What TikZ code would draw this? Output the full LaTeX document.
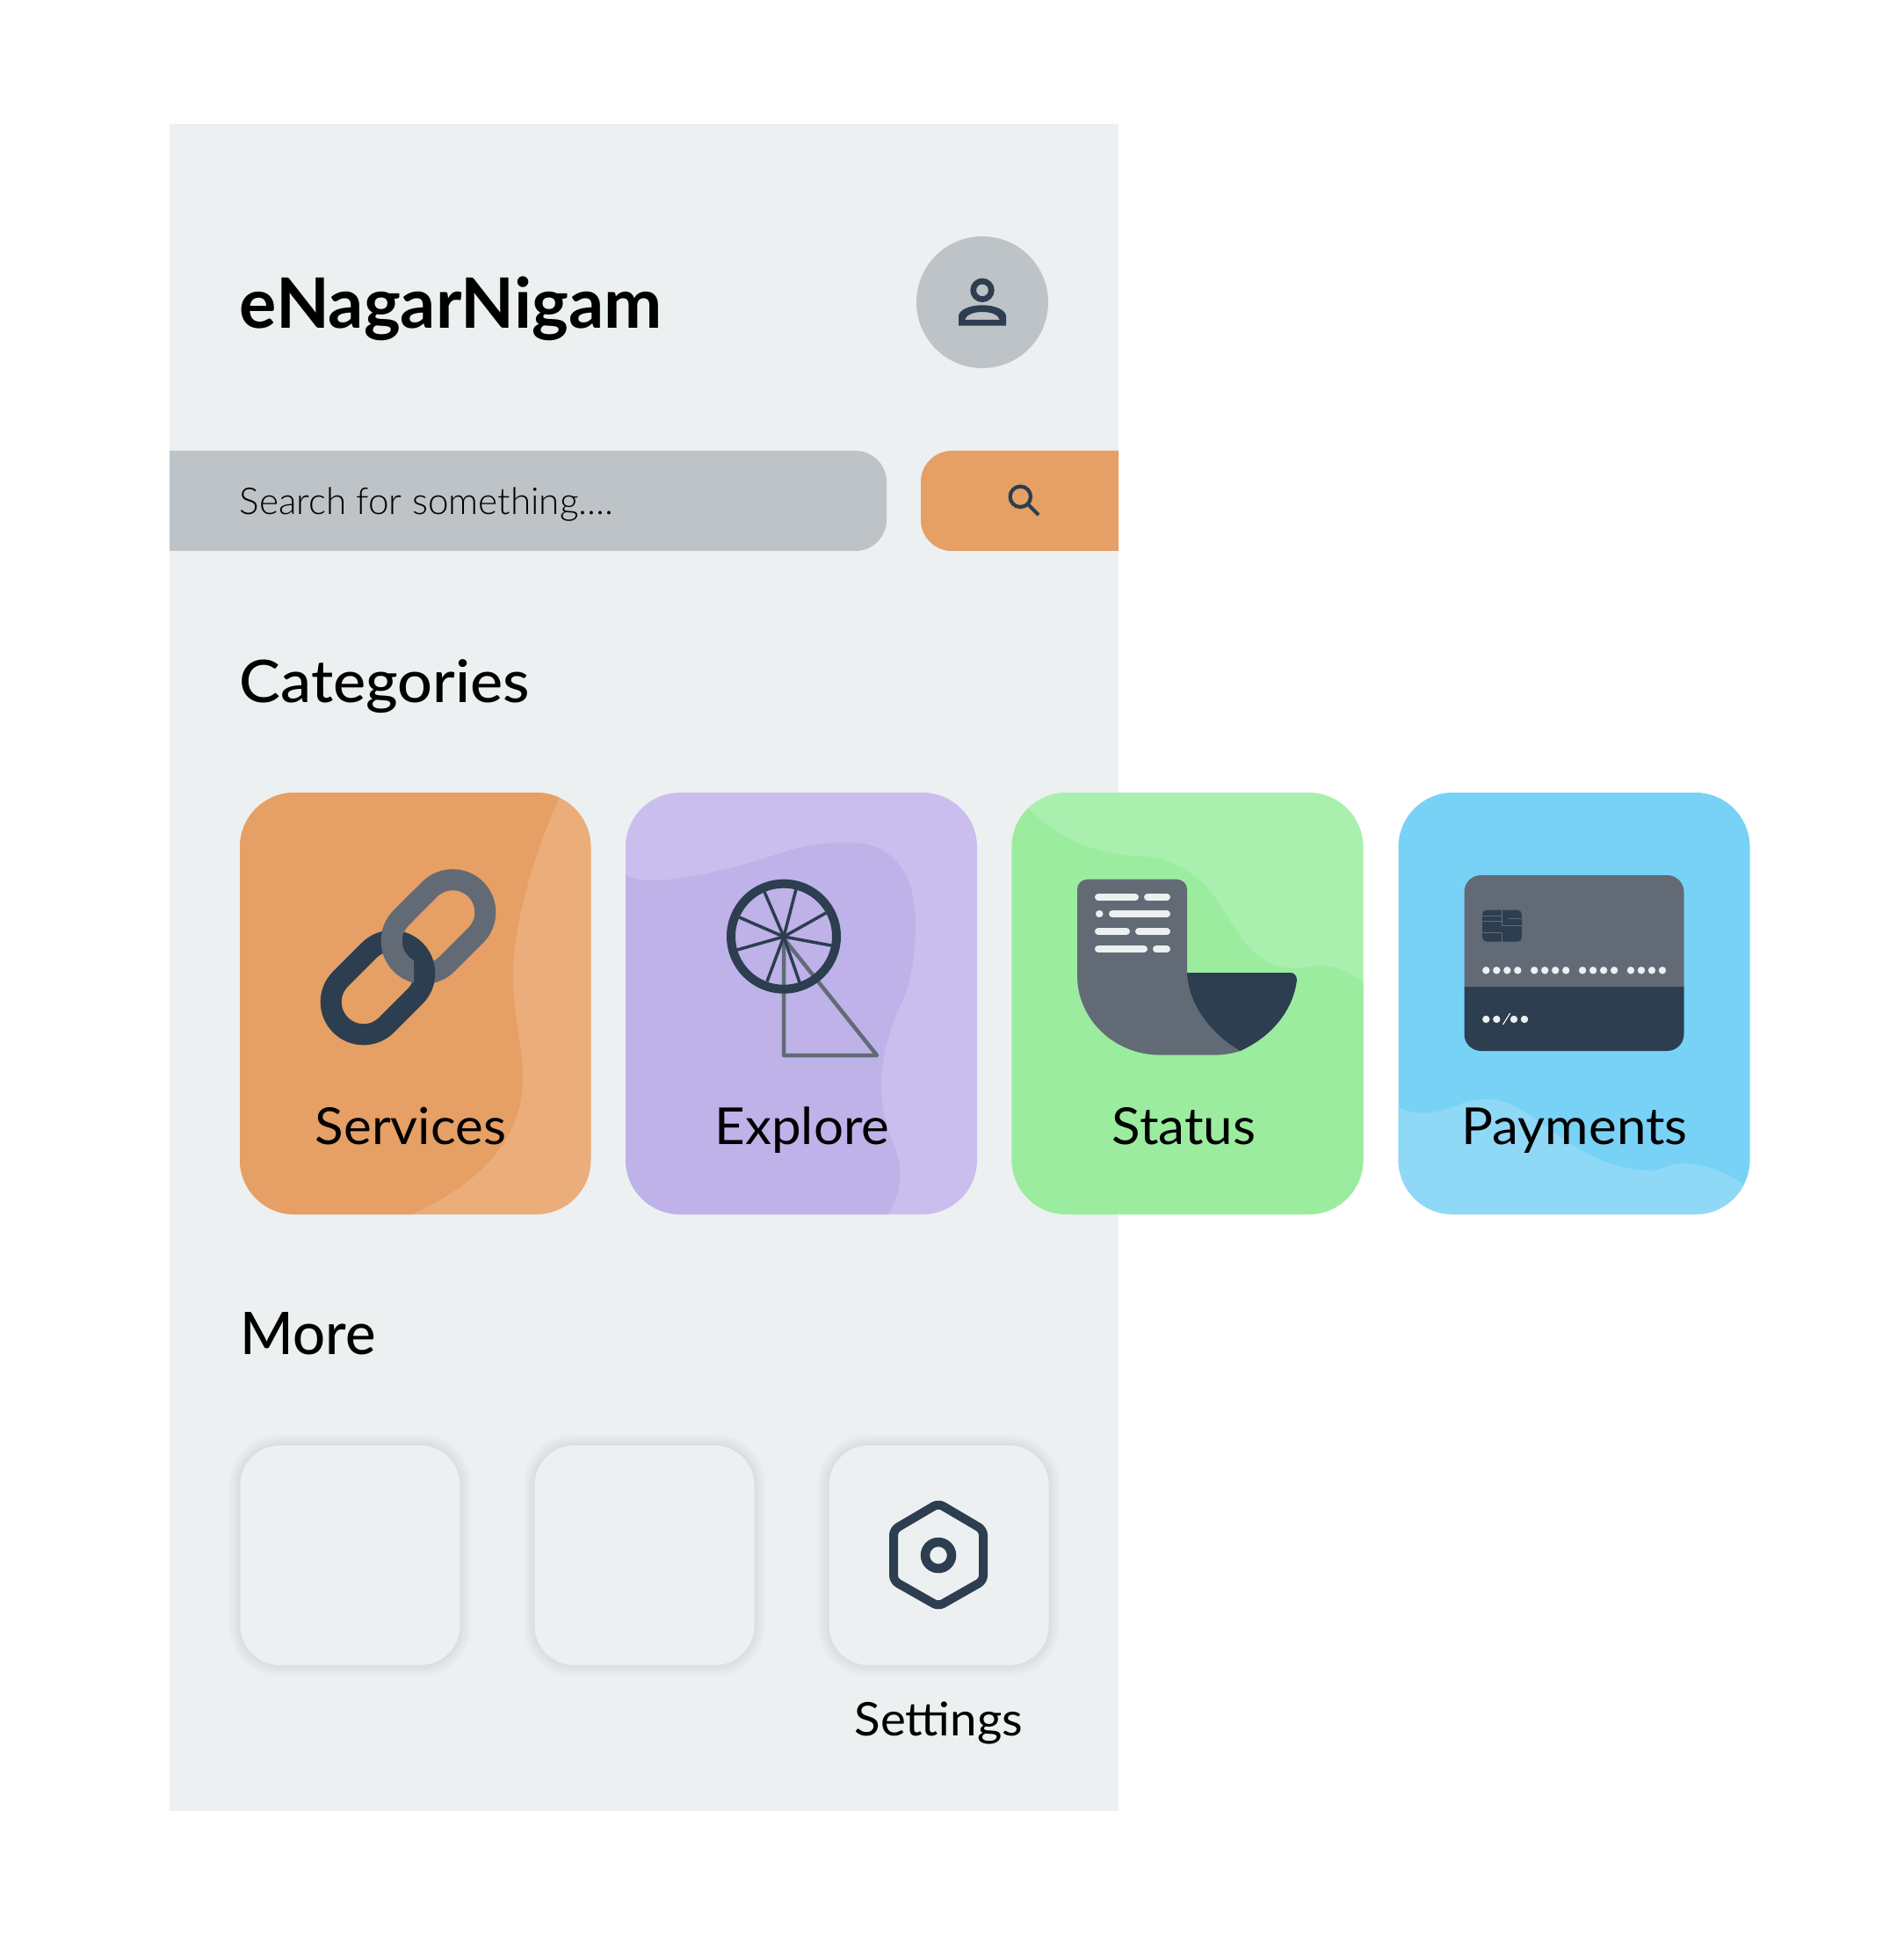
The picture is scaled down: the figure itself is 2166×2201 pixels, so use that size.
\documentclass[tikz,border=0pt]{standalone}
\usepackage{fontspec}
\setmainfont{Lato}
\newfontfamily\lightfont{Lato Light}
\newfontfamily\mediumfont{Lato Medium}
\definecolor{panelbg}{HTML}{ECF0F1}
\definecolor{barbg}{HTML}{BDC3C7}
\definecolor{inkdark}{HTML}{2C3E50}
\definecolor{inkgray}{HTML}{626B75}
\definecolor{orangebase}{HTML}{E69F64}
\definecolor{orangelight}{HTML}{EBAD79}
\definecolor{violetbase}{HTML}{BEB2E9}
\definecolor{violetlight}{HTML}{CABEEE}
\definecolor{greenbase}{HTML}{9BEC9F}
\definecolor{greenlight}{HTML}{A9EFAE}
\definecolor{bluebase}{HTML}{78D2F6}
\definecolor{bluelight}{HTML}{8FD9F7}
\tikzset{
  titlefont/.style={anchor=base west, inner sep=0, text=black, font=\fontsize{22.5}{25}\selectfont\bfseries},
  headfont/.style={anchor=base west, inner sep=0, text=black, font=\fontsize{19}{22}\selectfont\mediumfont},
  cardfont/.style={anchor=base, inner sep=0, text=black, xscale=1.035, font=\fontsize{16.5}{19}\selectfont},
  searchfont/.style={anchor=base west, inner sep=0, text=black, font=\fontsize{12}{14}\selectfont\lightfont},
  catcard/.style={rounded corners=0.62cm},
  morecard/.style={rounded corners=0.45cm, fill=panelbg},
  linkring/.style={rectangle, draw=#1, line width=0.24cm, rounded corners=0.37cm,
    minimum width=1.2cm, minimum height=0.74cm, inner sep=0, outer sep=0, rotate=45},
}
\begin{document}
\begin{tikzpicture}[x=0.01cm, y=-0.01cm]
  \useasboundingbox (0, 0) rectangle (2166, 2201);
  \fill[white] (0, 0) rectangle (2166, 2201);

  %% panel
  \fill[panelbg] (193, 141) rectangle (1273, 2061);

  %% header
  \node[titlefont] (apptitle) at (272, 373.5) {eNagarNigam};
  \fill[barbg] (1118, 344) circle (75);
  \draw[inkdark, line width=0.067cm] (1118, 330.3) circle (10.3);
  \fill[inkdark, even odd rule] (1091, 370.7) -- (1091, 360) .. controls (1091, 353) and (1103, 347.3) .. (1118, 347.3)
    .. controls (1133, 347.3) and (1145, 353) .. (1145, 360) -- (1145, 370.7) -- cycle
    (1098, 364) -- (1138, 364) .. controls (1136, 358) and (1128, 355) .. (1118, 355)
    .. controls (1108, 355) and (1100, 358) .. (1098, 364) -- cycle;

  %% search bar
  \fill[barbg] (193, 513) -- (974, 513) .. controls (993, 513) and (1009, 529) .. (1009, 548)
    -- (1009, 592) .. controls (1009, 611) and (993, 627) .. (974, 627) -- (193, 627) -- cycle;
  \fill[orangebase] (1273, 513) -- (1083, 513) .. controls (1064, 513) and (1048, 529) .. (1048, 548)
    -- (1048, 592) .. controls (1048, 611) and (1064, 627) .. (1083, 627) -- (1273, 627) -- cycle;
  \node[searchfont] (searchtext) at (272, 585.5) {Search for something....};
  \draw[inkdark, line width=0.042cm] (1161.3, 565.3) circle (11.7);
  \draw[inkdark, line width=0.042cm] (1169.8, 573.8) -- (1182, 586);

  %% section titles
  \node[headfont, xscale=1.05] (catlabel) at (272, 799) {Categories};
  \node[headfont, xscale=0.975] (morelabel) at (273, 1541) {More};

  %% Services card
  \fill[catcard, orangelight] (273, 902) rectangle (672.5, 1382);
  \begin{scope}
    \clip[catcard] (273, 902) rectangle (672.5, 1382);
    \fill[orangebase] (644, 892) -- (636, 909) .. controls (602, 985) and (584, 1060) .. (584, 1107)
      .. controls (584, 1160) and (595, 1190) .. (595, 1227)
      .. controls (595, 1300) and (540, 1350) .. (468, 1382)
      -- (440, 1398) -- (260, 1398) -- (260, 892) -- cycle;
  \end{scope}
  \node[linkring=inkgray] (linkback) at (499, 1054.5) {};
  \node[linkring=inkdark] (linkfront) at (430, 1124) {};
  \begin{scope}
    \clip (420, 980) rectangle (471, 1130);
    \node[linkring=inkgray] (linkover) at (499, 1054.5) {};
  \end{scope}
  \node[cardfont] (services) at (467.5, 1302) {Services};

  %% Explore card
  \fill[catcard, violetlight] (712, 902) rectangle (1112, 1382);
  \begin{scope}
    \clip[catcard] (712, 902) rectangle (1112, 1382);
    \fill[violetbase] (712, 995) .. controls (735, 1010) and (800, 1000) .. (891, 970)
      .. controls (925, 959) and (945, 959) .. (968, 959)
      .. controls (1020, 959) and (1042, 1000) .. (1042, 1050)
      .. controls (1042, 1090) and (1036, 1125) .. (1022, 1150)
      .. controls (1008, 1185) and (1003, 1210) .. (1003, 1235)
      .. controls (1003, 1270) and (1012, 1290) .. (1020, 1310)
      .. controls (1030, 1340) and (1022, 1365) .. (1010, 1382)
      -- (1003, 1398) -- (700, 1398) -- (700, 995) -- cycle;
  \end{scope}
  \draw[inkgray, line width=0.045cm, line join=round] (892, 1068) -- (892, 1201) -- (998, 1201) -- cycle;
  \foreach \tipx/\tipy in {870/1015, 906/1012, 940/1039, 946/1076, 910/1118, 873/1117, 839/1081, 841.5/1044}
    \draw[inkdark, line width=0.035cm] (892, 1066) -- (\tipx, \tipy);
  \draw[inkdark, line width=0.1cm] (892, 1065.7) circle (60);
  \node[cardfont] (explore) at (913, 1302) {Explore};

  %% Status card
  \fill[catcard, greenlight] (1151.5, 902) rectangle (1551.5, 1382);
  \begin{scope}
    \clip[catcard] (1151.5, 902) rectangle (1551.5, 1382);
    \fill[greenbase] (1160, 910) -- (1172, 922) .. controls (1200, 950) and (1245, 974) .. (1294, 974)
      .. controls (1340, 976) and (1372, 1000) .. (1395, 1040)
      .. controls (1415, 1075) and (1435, 1100) .. (1469, 1102)
      .. controls (1490, 1102) and (1495, 1098) .. (1506, 1099)
      .. controls (1525, 1100) and (1540, 1110) .. (1552, 1118)
      -- (1560, 1398) -- (1140, 1398) -- (1140, 910) -- cycle;
  \end{scope}
  \fill[inkdark] (1340, 1107) -- (1469, 1107) .. controls (1473, 1107) and (1476, 1111) .. (1476, 1115)
    .. controls (1472, 1150) and (1447, 1180) .. (1411.5, 1196) -- (1340, 1200) -- cycle;
  \fill[inkgray] (1238, 1000.7) -- (1339, 1000.7) .. controls (1346, 1000.7) and (1351, 1006) .. (1351, 1012)
    -- (1351, 1107) .. controls (1352, 1140) and (1375, 1175) .. (1411.5, 1196)
    .. controls (1402, 1199) and (1392, 1200.7) .. (1381, 1200.7) -- (1321, 1200.7)
    .. controls (1268, 1200.7) and (1226, 1160) .. (1226, 1110) -- (1226, 1012)
    .. controls (1226, 1006) and (1231, 1000.7) .. (1238, 1000.7) -- cycle;
  \foreach \rowy/\fromx/\tox in {1021/1250/1292, 1021/1306/1328, 1040/1251/1251.5, 1040/1266/1328,
      1060/1250/1282, 1060/1296/1328, 1080/1250/1302, 1080/1316/1328}
    \draw[panelbg, line width=0.08cm, line cap=round] (\fromx, \rowy) -- (\tox, \rowy);
  \node[cardfont] (status) at (1347.5, 1302) {Status};

  %% Payments card
  \fill[catcard, bluebase] (1591.5, 902) rectangle (1991.5, 1382);
  \begin{scope}
    \clip[catcard] (1591.5, 902) rectangle (1991.5, 1382);
    \fill[bluelight] (1580, 1255) -- (1591, 1260) .. controls (1610, 1270) and (1635, 1268) .. (1661, 1257)
      .. controls (1672, 1252) and (1682, 1251) .. (1694, 1251)
      .. controls (1745, 1251) and (1790, 1332) .. (1880, 1332)
      .. controls (1892, 1332) and (1900, 1324) .. (1915, 1324)
      .. controls (1940, 1324) and (1965, 1335) .. (1985, 1348)
      -- (2000, 1360) -- (2000, 1398) -- (1580, 1398) -- cycle;
  \end{scope}
  \begin{scope}
    \clip[rounded corners=0.19cm] (1666.5, 996) rectangle (1916.5, 1196);
    \fill[inkgray] (1660, 990) rectangle (1920, 1123.3);
    \fill[inkdark] (1660, 1123.3) rectangle (1920, 1200);
  \end{scope}
  \fill[inkdark, rounded corners=0.05cm] (1687, 1035.7) rectangle (1732, 1071.7);
  \draw[inkgray, line width=0.01cm] (1687, 1042) -- (1709, 1042) (1687, 1048) -- (1709, 1048)
    (1709, 1035.7) -- (1709, 1053) -- (1732, 1053) (1717, 1045) -- (1732, 1045)
    (1687, 1061) -- (1709, 1061) -- (1709, 1071.7);
  \foreach \groupx in {1691.3, 1746.2, 1801.1, 1856}
    \foreach \dotx in {0, 12, 24, 36}
      \fill[panelbg] (\groupx + \dotx, 1104.3) circle (4.2);
  \foreach \dotx in {1691.3, 1703.3, 1723, 1735}
    \fill[panelbg] (\dotx, 1160) circle (4.2);
  \draw[panelbg, line width=0.012cm] (1718.7, 1153) -- (1710.5, 1166);
  \node[cardfont] (payments) at (1792, 1302) {Payments};

  %% More cards with soft edge
  \foreach \leftx in {273.5, 608.5, 943.5} {
    \foreach \spread in {3, 6, ..., 27}
      \draw[black, opacity=0.009, line width=\spread*0.01cm, rounded corners=0.45cm]
        (\leftx, 1645) rectangle (\leftx + 250, 1895);
    \fill[morecard] (\leftx, 1645) rectangle (\leftx + 250, 1895);
  }

  %% Settings icon
  \draw[inkdark, line width=0.1cm, line join=round, rounded corners=0.06cm]
    (1068, 1711) -- (1119, 1741) -- (1119, 1799) -- (1068, 1828) -- (1017, 1799) -- (1017, 1741) -- cycle;
  \draw[inkdark, line width=0.105cm] (1068, 1770) circle (15);
  \node[cardfont, font=\fontsize{15}{18}\selectfont] (settings) at (1068.5, 1975) {Settings};
\end{tikzpicture}
\end{document}
